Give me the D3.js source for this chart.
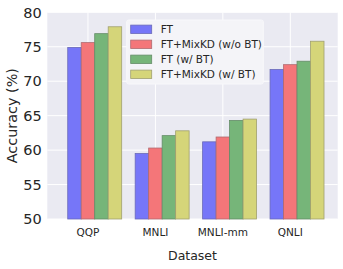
<!DOCTYPE html>
<html>
<head>
<meta charset="utf-8">
<style>
  body { margin: 0; background: #fff; }
  svg text { font-family: "DejaVu Sans", sans-serif; fill: #262626; }
  .grid line { stroke: #fff; stroke-width: 1px; }
</style>
</head>
<body>
<script src="https://d3js.org/d3.v7.min.js"></script>
<script>
var datasets = ["QQP", "MNLI", "MNLI-mm", "QNLI"];
var methods = ["FT", "FT+MixKD (w/o BT)", "FT (w/ BT)", "FT+MixKD (w/ BT)"];
var ft        = [74.9, 59.5, 61.2, 71.7];
var mixkd     = [75.6, 60.3, 61.9, 72.4];
var ftBT      = [76.9, 62.1, 64.3, 72.9];
var mixkdBT   = [77.9, 62.8, 64.5, 75.8];
var yTicks = [50, 55, 60, 65, 70, 75, 80];

var series = [ft, mixkd, ftBT, mixkdBT];
var fills = ["#7676f8", "#f47679", "#76b579", "#d5d579"];
var edges = ["#6a6ab8", "#b06a70", "#648c68", "#a0a070"];

var W = 343, H = 269;
var pLeft = 47.3, pRight = 337.7, pTop = 12.3, pBottom = 219;
var barW = 0.2;

var svg = d3.select("body").append("svg")
    .attr("width", W).attr("height", H);

var x = d3.scaleLinear().domain([-0.403, 3.903]).range([pLeft, pRight]);
var y = d3.scaleLinear().domain([50, 80]).range([pBottom, pTop]);

// plot background
svg.append("rect")
    .attr("x", pLeft).attr("y", pTop)
    .attr("width", pRight - pLeft).attr("height", pBottom - pTop)
    .attr("fill", "#eaeaf2");

// grid
var grid = svg.append("g").attr("class", "grid");
grid.selectAll("line.h").data(yTicks).enter().append("line")
    .attr("x1", pLeft).attr("x2", pRight)
    .attr("y1", function(d) { return y(d); })
    .attr("y2", function(d) { return y(d); });
grid.selectAll("line.v").data(datasets).enter().append("line")
    .attr("y1", pTop).attr("y2", pBottom)
    .attr("x1", function(d, i) { return x(i + barW); })
    .attr("x2", function(d, i) { return x(i + barW); });

// bars
series.forEach(function(vals, k) {
  svg.append("g").selectAll("rect").data(vals).enter().append("rect")
      .attr("x", function(d, i) { return x(i + k * barW - barW / 2); })
      .attr("width", x(barW) - x(0))
      .attr("y", function(d) { return y(d); })
      .attr("height", function(d) { return y(50) - y(d); })
      .attr("fill", fills[k])
      .attr("stroke", edges[k])
      .attr("stroke-width", 0.8);
});

// y axis labels
svg.append("g").selectAll("text").data(yTicks).enter().append("text")
    .attr("x", pLeft - 5.5)
    .attr("y", function(d) { return y(d); })
    .attr("dy", "0.36em")
    .attr("text-anchor", "end")
    .style("font-size", "14.5px")
    .text(function(d) { return d; });

// x axis labels
svg.append("g").selectAll("text").data(datasets).enter().append("text")
    .attr("x", function(d, i) { return x(i + barW); })
    .attr("y", 236)
    .attr("text-anchor", "middle")
    .style("font-size", "10.5px")
    .text(function(d) { return d; });

svg.append("text")
    .attr("x", (pLeft + pRight) / 2)
    .attr("y", 260)
    .attr("text-anchor", "middle")
    .style("font-size", "12.5px")
    .text("Dataset");

svg.append("text")
    .attr("transform", "translate(16.5," + ((pTop + pBottom) / 2) + ") rotate(-90)")
    .attr("text-anchor", "middle")
    .style("font-size", "14.4px")
    .text("Accuracy (%)");

// legend
var lg = svg.append("g").attr("transform", "translate(126.7,20)");
lg.append("rect")
    .attr("width", 136.6).attr("height", 64)
    .attr("rx", 2)
    .attr("fill", "#f4f4f8")
    .attr("stroke", "#f8f8fb");
var item = lg.selectAll("g.item").data(methods).enter().append("g")
    .attr("transform", function(d, i) { return "translate(4," + (9.3 + i * 15) + ")"; });
item.append("rect")
    .attr("x", 0).attr("y", -4.2)
    .attr("width", 21).attr("height", 8.4)
    .attr("fill", function(d, i) { return fills[i]; })
    .attr("stroke", function(d, i) { return edges[i]; })
    .attr("stroke-width", 0.8);
item.append("text")
    .attr("x", 30).attr("y", 0)
    .attr("dy", "0.36em")
    .style("font-size", "10.5px")
    .text(function(d) { return d; });
</script>
</body>
</html>
